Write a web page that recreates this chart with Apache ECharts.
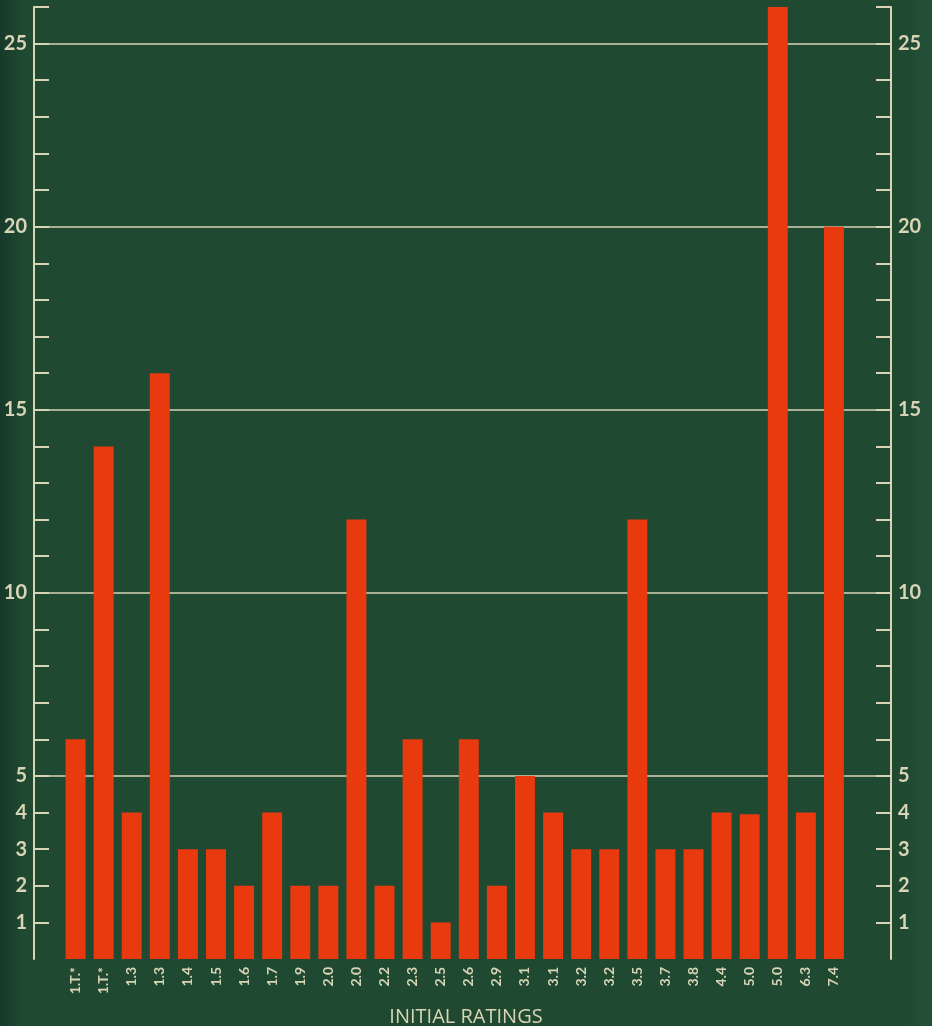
<!DOCTYPE html>
<html>
<head>
<meta charset="utf-8">
<script src="https://cdn.jsdelivr.net/npm/echarts@6/dist/echarts.min.js"></script>
<style>
  html, body { margin: 0; padding: 0; }
  #charts { width: 932px; height: 1026px; }
</style>
</head>
<body>
<div id="charts"></div>
<script>
// ratings along the bottom, one bar each
const ratings = ['1.T.*', '1.T.*', '1.3', '1.3', '1.4', '1.5', '1.6', '1.7', '1.9', '2.0',
  '2.0', '2.2', '2.3', '2.5', '2.6', '2.9', '3.1', '3.1', '3.2', '3.2',
  '3.5', '3.7', '3.8', '4.4', '5.0', '5.0', '6.3', '7.4'];
const counts = [6, 14, 4, 16, 3, 3, 2, 4, 2, 2,
  12, 2, 6, 1, 6, 2, 5, 4, 3, 3,
  12, 3, 3, 4, 3.95, 26, 4, 20];
const tickValues = [1, 2, 3, 4, 5, 6, 7, 8, 9, 10, 11, 12, 13, 14, 15, 16, 17, 18, 19, 20, 21, 22, 23, 24, 25, 26];
const labelValues = [1, 2, 3, 4, 5, 10, 15, 20, 25];
const gridValues = [5, 10, 15, 20, 25];

const chalk = '#d9d4b6';
const green = '#1f4a31';
const red = '#e8390f';

let myChart = echarts.init(document.getElementById('charts'));

function sideAxis(pos) {
  return {
    type: 'value',
    gridIndex: 0,
    position: pos,
    min: 0,
    max: 26,
    axisLine: { show: true, lineStyle: { color: chalk, width: 2 } },
    axisTick: {
      show: true,
      inside: true,
      length: 15,
      customValues: tickValues,
      lineStyle: { color: chalk, width: 2 },
    },
    axisLabel: {
      show: true,
      customValues: labelValues,
      color: chalk,
      fontSize: 20,
      fontFamily: 'Lato',
      fontWeight: 'bold',
      margin: 7,
    },
    splitLine: { show: false },
  };
}

let option = {
  backgroundColor: new echarts.graphic.LinearGradient(0, 0, 1, 0, [
    { offset: 0, color: '#16392a' },
    { offset: 0.025, color: green },
    { offset: 0.97, color: green },
    { offset: 1, color: '#24503a' },
  ]),
  animation: false,
  title: {
    text: 'INITIAL RATINGS',
    left: 'center',
    top: 1002,
    textStyle: {
      color: chalk,
      fontSize: 20,
      fontWeight: 'normal',
      fontFamily: 'Open Sans',
    },
  },
  grid: [
    { left: 34, right: 41, top: 7, bottom: 67 },
    { left: 61.5, right: 84, top: 7, bottom: 67 },
  ],
  xAxis: [
    { type: 'value', gridIndex: 0, show: false, min: 0, max: 1 },
    {
      type: 'category',
      gridIndex: 1,
      data: ratings,
      axisLine: { show: false },
      axisTick: { show: false },
      axisLabel: {
        rotate: 90,
        color: chalk,
        fontSize: 14,
        fontFamily: 'Lato',
        fontWeight: 'bold',
        margin: 8,
        interval: 0,
      },
    },
  ],
  yAxis: [
    sideAxis('left'),
    sideAxis('right'),
    {
      // chalk lines every five
      type: 'value',
      gridIndex: 0,
      position: 'left',
      min: 0,
      max: 26,
      axisLine: { show: false },
      axisTick: { show: false, customValues: gridValues },
      axisLabel: { show: false },
      splitLine: { show: true, lineStyle: { color: chalk, width: 1.5 } },
    },
    { type: 'value', gridIndex: 1, show: false, min: 0, max: 26 },
  ],
  series: [
    {
      type: 'bar',
      xAxisIndex: 1,
      yAxisIndex: 3,
      data: counts,
      barWidth: '71%',
      itemStyle: { color: red },
    },
  ],
};

myChart.setOption(option);
</script>
</body>
</html>
